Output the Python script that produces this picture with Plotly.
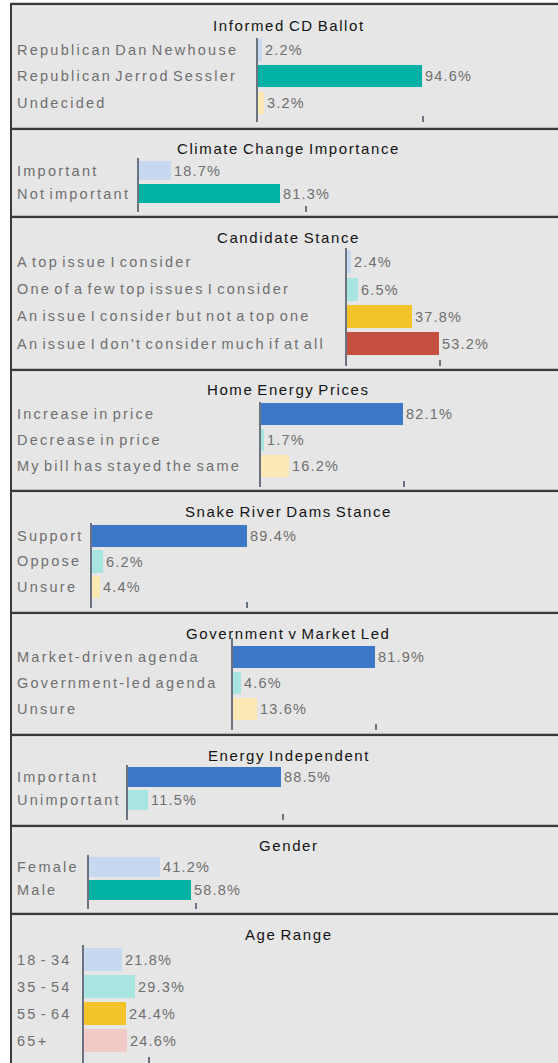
import plotly.graph_objects as go

# ---- survey results (percent of respondents) ----
ballot_labels = ["Republican Dan Newhouse", "Republican Jerrod Sessler", "Undecided"]
ballot_values = [2.2, 94.6, 3.2]

climate_labels = ["Important", "Not important"]
climate_values = [18.7, 81.3]

stance_labels = ["A top issue I consider", "One of a few top issues I consider",
                 "An issue I consider but not a top one", "An issue I don't consider much if at all"]
stance_values = [2.4, 6.5, 37.8, 53.2]

prices_labels = ["Increase in price", "Decrease in price", "My bill has stayed the same"]
prices_values = [82.1, 1.7, 16.2]

dams_labels = ["Support", "Oppose", "Unsure"]
dams_values = [89.4, 6.2, 4.4]

agenda_labels = ["Market-driven agenda", "Government-led agenda", "Unsure"]
agenda_values = [81.9, 4.6, 13.6]

independent_labels = ["Important", "Unimportant"]
independent_values = [88.5, 11.5]

gender_labels = ["Female", "Male"]
gender_values = [41.2, 58.8]

age_labels = ["18 - 34", "35 - 54", "55 - 64", "65+"]
age_values = [21.8, 29.3, 24.4, 24.6]

panel_titles = ["Informed CD Ballot", "Climate Change Importance", "Candidate Stance",
                "Home Energy Prices", "Snake River Dams Stance", "Government v Market Led",
                "Energy Independent", "Gender", "Age Range"]

# single axis tick shown under each panel (percent)
panel_ticks = [95.4, 96.5, 53.8, 82.7, 89.6, 82.7, 89.6, 62.0, 37.6]

# ---- palette ----
LBLUE, TEAL, LCYAN, LYEL = "#c6d9f1", "#00b1a4", "#a8e5e0", "#fce8b2"
GOLD, RED, BLUE, PINK = "#f4c329", "#c6503f", "#3d78c8", "#f1c9c7"

panel_data = [
    (ballot_labels, ballot_values, [LBLUE, TEAL, LYEL]),
    (climate_labels, climate_values, [LBLUE, TEAL]),
    (stance_labels, stance_values, [LBLUE, LCYAN, GOLD, RED]),
    (prices_labels, prices_values, [BLUE, LCYAN, LYEL]),
    (dams_labels, dams_values, [BLUE, LCYAN, LYEL]),
    (agenda_labels, agenda_values, [BLUE, LCYAN, LYEL]),
    (independent_labels, independent_values, [BLUE, LCYAN]),
    (gender_labels, gender_values, [LBLUE, TEAL]),
    (age_labels, age_values, [LBLUE, LCYAN, GOLD, PINK]),
]

# ---- page geometry (pixels) ----
W, H = 558, 1063
PX_PER_PCT = 1.73
# panel: top, bottom, title y, axis x, axis top, axis bottom, first row y, row pitch, bar height
geometry = [
    (5, 128, 26, 258, 38, 122, 49.5, 26.5, 22),
    (130, 216, 148, 139, 158, 212, 170.5, 23, 19.5),
    (218, 369, 238, 347, 248, 366, 261.7, 27.3, 23),
    (371, 490, 390, 261, 402, 487, 414, 26, 22),
    (492, 612, 511, 92, 523, 608, 536, 25.5, 22.5),
    (614, 734, 633, 233, 638, 730, 657, 26, 22),
    (736, 825, 755, 128, 765, 820, 777, 23, 20),
    (827, 913, 845, 89, 855, 909, 867, 23, 20),
    (915, 1063, 934, 84, 945, 1063, 959.5, 27, 23.5),
]

FONT = "Liberation Sans, Arial, sans-serif"
AXIS_COLOR = "#6b7280"
LABEL_COLOR = "#6f6f6f"


def spaced(text, px, space_px=None):
    """Wrap text in a span with extra letter spacing; word gaps get their own spacing."""
    if space_px is not None:
        text = text.replace(" ", f'<span style="letter-spacing:{space_px}px"> </span>')
    return f'<span style="letter-spacing:{px}px">{text}</span>'


def px_x(x):
    return min(max(x / W, 0.0), 1.0)


def px_y(y):
    return min(max(1 - y / H, 0.0), 1.0)


fig = go.Figure()
shapes = []
annotations = []

# page frame: white strip on the left, gray panels
shapes.append(dict(type="rect", xref="paper", yref="paper", x0=11 / W, x1=1.01,
                   y0=-0.01, y1=1 - 3 / H, fillcolor="#e6e6e6", line_width=0, layer="below"))
shapes.append(dict(type="line", xref="paper", yref="paper", x0=11 / W, x1=11 / W,
                   y0=-0.01, y1=1 - 3 / H, line=dict(color="#3a3a3a", width=2), layer="below"))

for i, ((labels, values, colors), geo, title, tick) in enumerate(
        zip(panel_data, geometry, panel_titles, panel_ticks)):
    top, bottom, title_y, ax_x, ax_top, ax_bot, first, pitch, bar_h = geo
    n = i + 1
    xa = "x" if n == 1 else f"x{n}"
    ya = "y" if n == 1 else f"y{n}"

    # panel separator: dark rule with a faint highlight beneath
    shapes.append(dict(type="line", xref="paper", yref="paper", x0=11 / W, x1=1.01,
                       y0=1 - (top - 1) / H, y1=1 - (top - 1) / H,
                       line=dict(color="#3a3a3a", width=2.5), layer="below"))
    shapes.append(dict(type="line", xref="paper", yref="paper", x0=12 / W, x1=1.01,
                       y0=1 - (top + 1) / H, y1=1 - (top + 1) / H,
                       line=dict(color="#f2f2f2", width=1), layer="below"))

    idx = list(range(len(values)))
    fig.add_trace(go.Bar(
        x=values, y=idx, orientation="h",
        marker=dict(color=colors, line=dict(width=0)),
        width=bar_h / pitch,
        text=[spaced(f"{v:.1f}%", 1.2) for v in values], textposition="outside",
        textfont=dict(family=FONT, size=14.5, color=LABEL_COLOR),
        constraintext="none", cliponaxis=False,
        xaxis=xa, yaxis=ya, showlegend=False, hoverinfo="skip",
    ))

    x_key = "xaxis" if n == 1 else f"xaxis{n}"
    y_key = "yaxis" if n == 1 else f"yaxis{n}"
    fig.layout[x_key] = dict(
        domain=[px_x(ax_x), 1], range=[0, (W - ax_x) / PX_PER_PCT], anchor=ya,
        showgrid=False, zeroline=False, showline=False, showticklabels=False,
        tickvals=[tick], ticks="inside", ticklen=6, tickwidth=2, tickcolor=AXIS_COLOR,
        fixedrange=True,
    )
    fig.layout[y_key] = dict(
        domain=[px_y(ax_bot), px_y(ax_top)],
        range=[(ax_bot - first) / pitch, (ax_top - first) / pitch], anchor=xa,
        showgrid=False, zeroline=False, showline=True, linecolor=AXIS_COLOR, linewidth=2,
        showticklabels=False, ticks="", fixedrange=True,
    )

    annotations.append(dict(xref="paper", yref="paper", x=289 / W, y=1 - title_y / H,
                            text=spaced(title, 1.6, -0.3), showarrow=False, xanchor="center",
                            yanchor="middle",
                            font=dict(family=FONT, size=15, color="#141414")))
    for j, lab in enumerate(labels):
        annotations.append(dict(xref="paper", yref=ya, x=15 / W, y=j,
                                text=spaced(lab, 2.25, -0.9),
                                showarrow=False, xanchor="left", yanchor="middle",
                                font=dict(family=FONT, size=14.5, color=LABEL_COLOR)))

fig.update_layout(
    width=W, height=H, margin=dict(l=0, r=0, t=0, b=0),
    paper_bgcolor="#ffffff", plot_bgcolor="rgba(0,0,0,0)",
    shapes=shapes, annotations=annotations, bargap=0, showlegend=False,
)

fig.write_html("out.html")
